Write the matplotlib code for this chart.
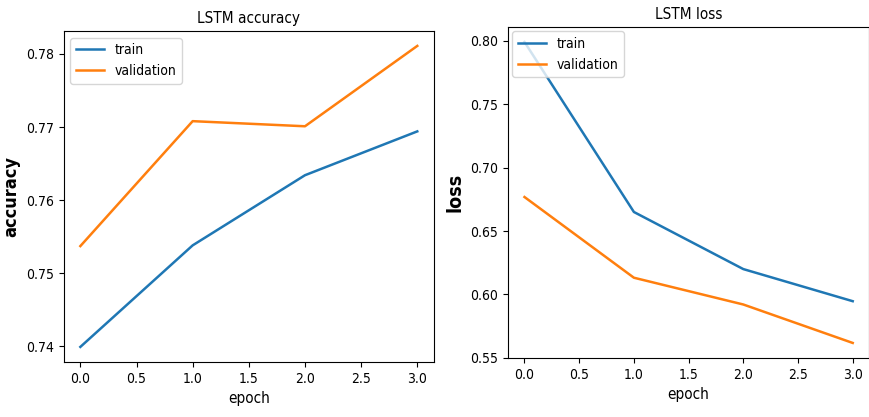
import matplotlib
matplotlib.use("Agg")
import matplotlib.pyplot as plt

plt.rcParams['font.family'] = ['DejaVu Sans']
plt.rcParams['font.stretch'] = 'condensed'

epochs = [0, 1, 2, 3]
acc_train = [0.7399, 0.7538, 0.7634, 0.7694]
acc_val = [0.7537, 0.7708, 0.7701, 0.7811]
loss_train = [0.799, 0.665, 0.620, 0.5947]
loss_val = [0.6768, 0.6132, 0.5921, 0.5618]

fig = plt.figure(figsize=(8.7, 4.17), dpi=100)

ax1 = fig.add_axes([0.073, 0.132, 0.426, 0.794])
ax1.plot(epochs, acc_train, label='train', lw=1.8)
ax1.plot(epochs, acc_val, label='validation', lw=1.8)
ax1.set_title('LSTM accuracy', fontsize=11)
ax1.set_ylabel('accuracy', fontsize=13, fontweight='semibold')
ax1.set_xlabel('epoch', fontsize=11)
ax1.set_yticks([0.74, 0.75, 0.76, 0.77, 0.78])
ax1.tick_params(labelsize=10)
ax1.legend(loc='upper left', fontsize=10)

ax2 = fig.add_axes([0.584, 0.1415, 0.415, 0.794])
ax2.plot(epochs, loss_train, label='train', lw=1.8)
ax2.plot(epochs, loss_val, label='validation', lw=1.8)
ax2.set_title('LSTM loss', fontsize=11)
ax2.set_ylabel('loss', fontsize=14, fontweight='bold')
ax2.set_xlabel('epoch', fontsize=11)
ax2.set_yticks([0.55, 0.60, 0.65, 0.70, 0.75, 0.80])
ax2.tick_params(labelsize=10)
ax2.legend(loc='upper left', fontsize=10, borderaxespad=0.3)

fig.savefig('out.png', dpi=100)
